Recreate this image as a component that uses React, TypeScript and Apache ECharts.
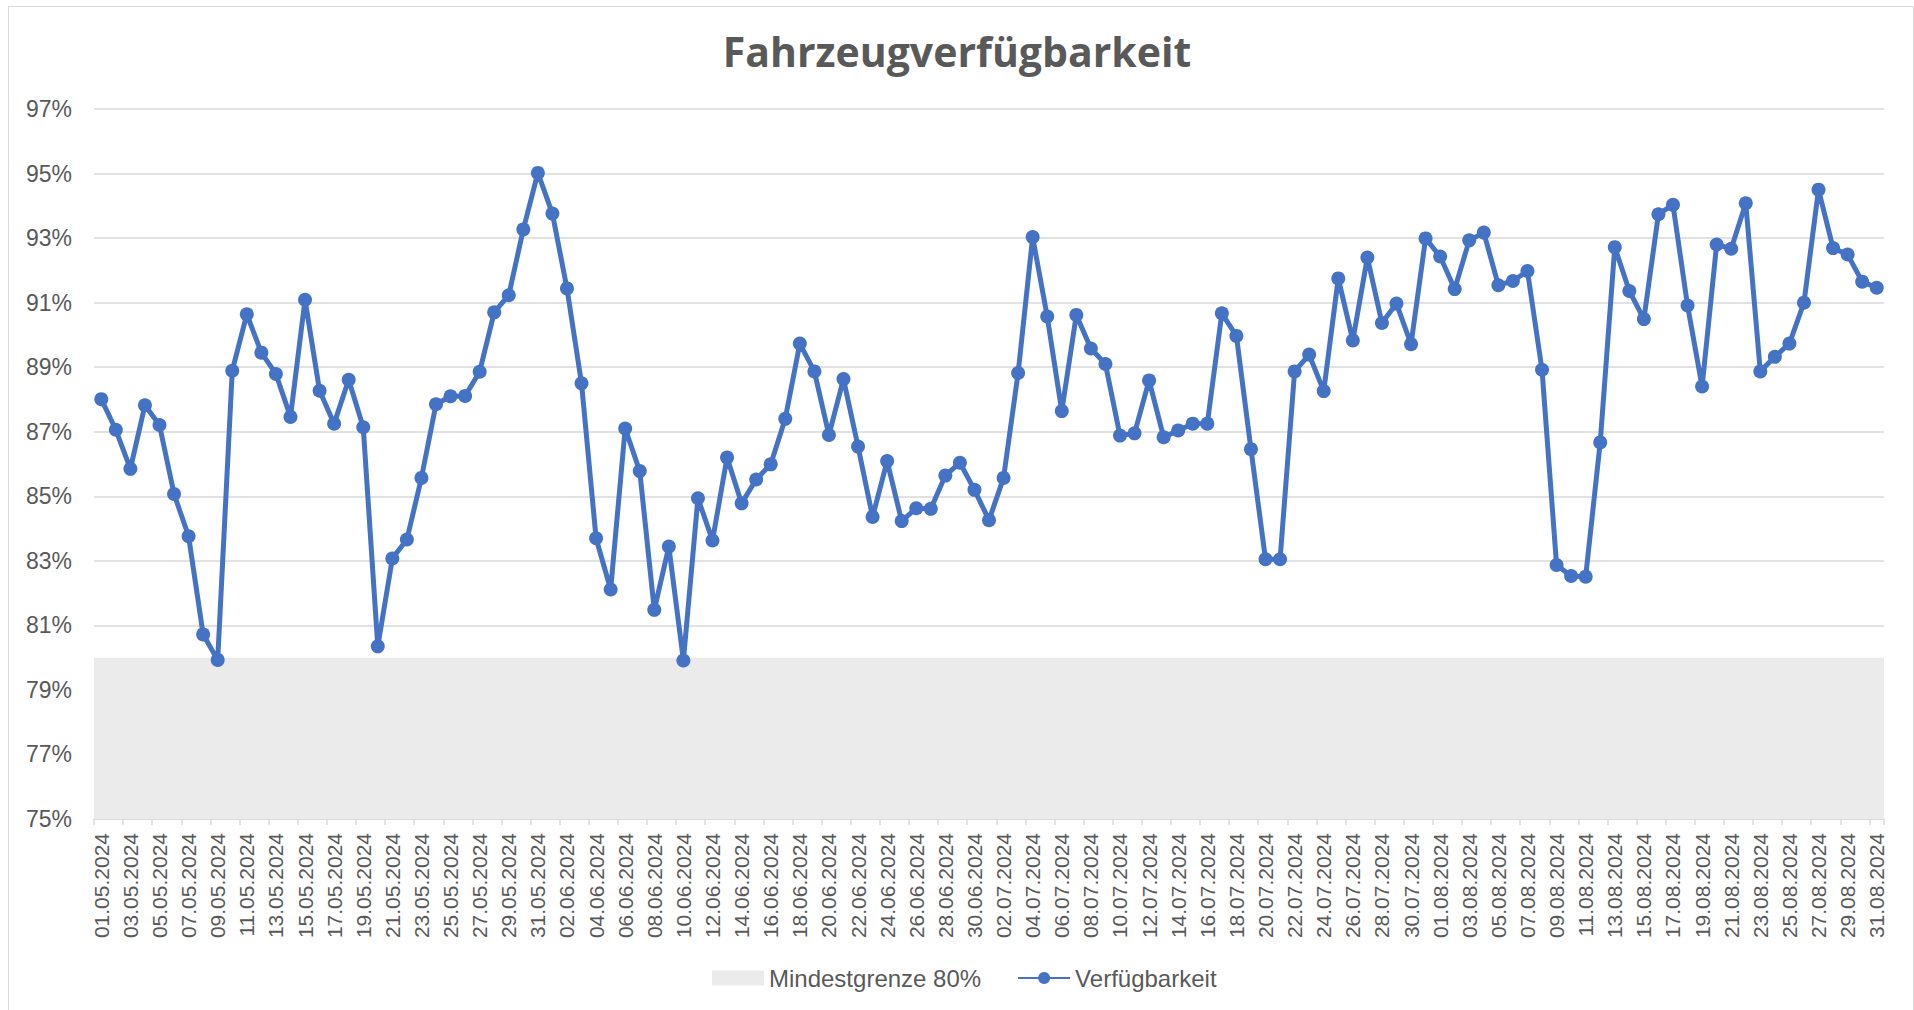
import React, { useEffect, useRef } from "react";
import * as echarts from "echarts";

const TITLE = "Fahrzeugverfügbarkeit";
const SERIES_LIMIT = "Mindestgrenze 80%";
const SERIES_AVAIL = "Verfügbarkeit";
const LIMIT_VALUE = 80;
const Y_MIN = 75;
const Y_MAX = 97;
const Y_STEP = 2;

const DATES_MAY = [
  "01.05.2024", "02.05.2024", "03.05.2024", "04.05.2024", "05.05.2024", "06.05.2024", "07.05.2024", "08.05.2024",
  "09.05.2024", "10.05.2024", "11.05.2024", "12.05.2024", "13.05.2024", "14.05.2024", "15.05.2024", "16.05.2024",
  "17.05.2024", "18.05.2024", "19.05.2024", "20.05.2024", "21.05.2024", "22.05.2024", "23.05.2024", "24.05.2024",
  "25.05.2024", "26.05.2024", "27.05.2024", "28.05.2024", "29.05.2024", "30.05.2024", "31.05.2024",
];
const DATES_JUN = [
  "01.06.2024", "02.06.2024", "03.06.2024", "04.06.2024", "05.06.2024", "06.06.2024", "07.06.2024", "08.06.2024",
  "09.06.2024", "10.06.2024", "11.06.2024", "12.06.2024", "13.06.2024", "14.06.2024", "15.06.2024", "16.06.2024",
  "17.06.2024", "18.06.2024", "19.06.2024", "20.06.2024", "21.06.2024", "22.06.2024", "23.06.2024", "24.06.2024",
  "25.06.2024", "26.06.2024", "27.06.2024", "28.06.2024", "29.06.2024", "30.06.2024",
];
const DATES_JUL = [
  "01.07.2024", "02.07.2024", "03.07.2024", "04.07.2024", "05.07.2024", "06.07.2024", "07.07.2024", "08.07.2024",
  "09.07.2024", "10.07.2024", "11.07.2024", "12.07.2024", "13.07.2024", "14.07.2024", "15.07.2024", "16.07.2024",
  "17.07.2024", "18.07.2024", "19.07.2024", "20.07.2024", "21.07.2024", "22.07.2024", "23.07.2024", "24.07.2024",
  "25.07.2024", "26.07.2024", "27.07.2024", "28.07.2024", "29.07.2024", "30.07.2024", "31.07.2024",
];
const DATES_AUG = [
  "01.08.2024", "02.08.2024", "03.08.2024", "04.08.2024", "05.08.2024", "06.08.2024", "07.08.2024", "08.08.2024",
  "09.08.2024", "10.08.2024", "11.08.2024", "12.08.2024", "13.08.2024", "14.08.2024", "15.08.2024", "16.08.2024",
  "17.08.2024", "18.08.2024", "19.08.2024", "20.08.2024", "21.08.2024", "22.08.2024", "23.08.2024", "24.08.2024",
  "25.08.2024", "26.08.2024", "27.08.2024", "28.08.2024", "29.08.2024", "30.08.2024", "31.08.2024",
];

const VALUES_MAY = [
  88.01, 87.06, 85.85, 87.82, 87.21, 85.07, 83.76, 80.72, 79.93, 88.89,
  90.64, 89.45, 88.79, 87.46, 91.09, 88.27, 87.25, 88.61, 87.14, 80.35,
  83.07, 83.66, 85.57, 87.85, 88.1, 88.11, 88.86, 90.7, 91.23, 93.27, 95.02,
];
const VALUES_JUN = [
  93.76, 91.44, 88.5, 83.7, 82.11, 87.1, 85.78, 81.48, 83.44, 79.91,
  84.94, 83.63, 86.2, 84.78, 85.52, 85.99, 87.4, 89.73, 88.87, 86.9,
  88.63, 86.54, 84.36, 86.09, 84.23, 84.63, 84.61, 85.64, 86.04, 85.2,
];
const VALUES_JUL = [
  84.26, 85.57, 88.82, 93.03, 90.57, 87.64, 90.62, 89.58, 89.1, 86.88,
  86.95, 88.59, 86.83, 87.04, 87.25, 87.25, 90.67, 89.97, 86.46, 83.05,
  83.05, 88.87, 89.39, 88.26, 91.75, 89.83, 92.4, 90.37, 90.97, 89.71, 92.99,
];
const VALUES_AUG = [
  92.43, 91.42, 92.93, 93.17, 91.54, 91.67, 91.98, 88.92, 82.87, 82.53,
  82.51, 86.67, 92.72, 91.36, 90.49, 93.74, 94.03, 90.91, 88.4, 92.8,
  92.67, 94.08, 88.87, 89.32, 89.73, 91.0, 94.5, 92.69, 92.49, 91.65, 91.46,
];

const DATES = [...DATES_MAY, ...DATES_JUN, ...DATES_JUL, ...DATES_AUG];
const VALUES = [...VALUES_MAY, ...VALUES_JUN, ...VALUES_JUL, ...VALUES_AUG];

const TEXT_COLOR = "#595959";
const GRID_COLOR = "#d9d9d9";
const LINE_COLOR = "#4472c4";
const BAND_COLOR = "#ebebeb";
const FONT = "'Liberation Sans', Arial, sans-serif";

export default function App() {
  const ref = useRef<HTMLDivElement>(null);

  useEffect(() => {
    if (!ref.current) return;
    const chart = echarts.init(ref.current, null, { renderer: "svg" });
    chart.setOption({
      animation: false,
      backgroundColor: "transparent",
      title: {
        text: TITLE,
        left: "center",
        top: 25,
        textStyle: {
          fontFamily: "'Open Sans', sans-serif",
          fontWeight: "bold",
          fontSize: 41,
          color: TEXT_COLOR,
        },
      },
      legend: {
        left: 707,
        top: 961,
        itemWidth: 52,
        itemHeight: 15,
        itemGap: 36,
        textStyle: { fontFamily: FONT, fontSize: 24, color: TEXT_COLOR },
        data: [
          { name: SERIES_LIMIT, icon: "rect", itemStyle: { color: BAND_COLOR } },
          { name: SERIES_AVAIL },
        ],
      },
      grid: { left: 94, right: 30, top: 109, bottom: 191, containLabel: false },
      xAxis: {
        type: "category",
        data: DATES,
        boundaryGap: true,
        axisLine: { lineStyle: { color: GRID_COLOR, width: 1.5 } },
        axisTick: { show: true, interval: 1, length: 6, lineStyle: { color: GRID_COLOR, width: 1.5 } },
        axisLabel: {
          interval: 1,
          rotate: 90,
          fontFamily: FONT,
          fontSize: 21,
          color: TEXT_COLOR,
          margin: 14,
        },
        splitLine: { show: false },
      },
      yAxis: {
        type: "value",
        min: Y_MIN,
        max: Y_MAX,
        interval: Y_STEP,
        axisLine: { show: false },
        axisTick: { show: false },
        axisLabel: {
          formatter: "{value}%",
          fontFamily: FONT,
          fontSize: 23,
          color: TEXT_COLOR,
          margin: 22,
        },
        splitLine: { lineStyle: { color: GRID_COLOR, width: 1.5 } },
      },
      series: [
        {
          name: SERIES_LIMIT,
          type: "line",
          data: [],
          itemStyle: { color: BAND_COLOR },
          markArea: {
            silent: true,
            itemStyle: { color: BAND_COLOR },
            label: { show: false },
            data: [[{ yAxis: Y_MIN }, { yAxis: LIMIT_VALUE }]],
          },
        },
        {
          name: SERIES_AVAIL,
          type: "line",
          data: VALUES,
          symbol: "circle",
          symbolSize: 14,
          showSymbol: true,
          showAllSymbol: true,
          z: 5,
          lineStyle: { width: 5, color: LINE_COLOR },
          itemStyle: { color: LINE_COLOR },
        },
      ],
    });
    return () => chart.dispose();
  }, []);

  return (
    <div
      style={{
        position: "fixed",
        left: 0,
        top: 0,
        width: 1914,
        height: 1010,
        overflow: "hidden",
        background: "#fff",
      }}
    >
      <div
        style={{
          position: "absolute",
          left: 8,
          top: 6,
          width: 1906,
          height: 1010,
          border: "1px solid #d9d9d9",
          boxSizing: "border-box",
        }}
      />
      <div ref={ref} style={{ position: "absolute", left: 0, top: 0, width: 1914, height: 1010 }} />
    </div>
  );
}
